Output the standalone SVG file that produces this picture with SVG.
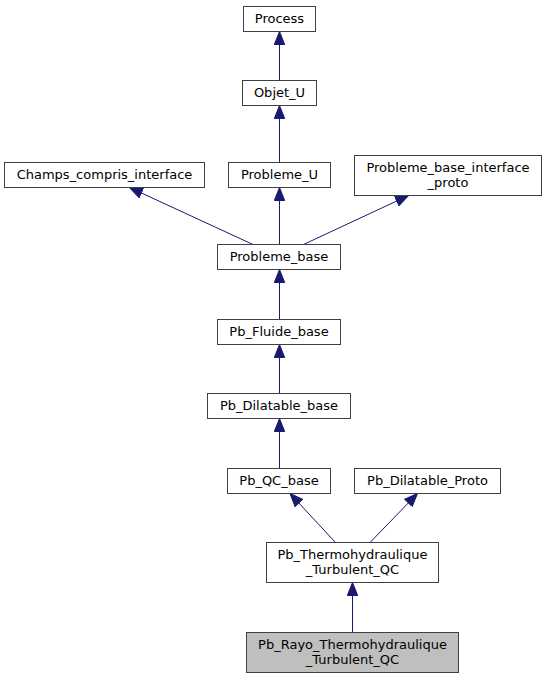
<svg xmlns="http://www.w3.org/2000/svg" width="546" height="679" viewBox="0 0 546 679">
<style>
.n rect{fill:#ffffff;stroke:#404040;stroke-width:1}
.n.cur rect{fill:#bfbfbf}
.n text{font-family:"DejaVu Sans","Liberation Sans",sans-serif;font-size:13px;fill:#000000;text-anchor:middle}
.e line{stroke:#191970;stroke-width:1;fill:none;marker-end:url(#ah)}
</style>
<defs>
<marker id="ah" markerUnits="userSpaceOnUse" markerWidth="14" markerHeight="12" viewBox="0 0 14 12" refX="13.5" refY="6" orient="auto">
<path d="M0.5,0.8 L13.5,6 L0.5,11.2 z" fill="#191970" stroke="#191970" stroke-width="1"/>
</marker>
</defs>
<rect width="546" height="679" fill="#ffffff"/>
<g id="edges" class="e">
<line x1="279.5" y1="80.5" x2="279.5" y2="31.5"/>
<line x1="279.5" y1="162.5" x2="279.5" y2="105.5"/>
<line x1="279.5" y1="244.5" x2="279.5" y2="187.5"/>
<line x1="253" y1="244.5" x2="129.5" y2="187.5"/>
<line x1="303.5" y1="244.5" x2="408.5" y2="195.5"/>
<line x1="279.5" y1="319.5" x2="279.5" y2="269.5"/>
<line x1="279.5" y1="393.5" x2="279.5" y2="344.5"/>
<line x1="279.5" y1="468.5" x2="279.5" y2="418.5"/>
<line x1="335.5" y1="542.5" x2="290" y2="493.5"/>
<line x1="370" y1="542.5" x2="417.5" y2="493.5"/>
<line x1="352.5" y1="632.5" x2="352.5" y2="582.5"/>
</g>
<g id="node-Process" class="n"><rect x="243.5" y="6.5" width="72" height="25"/><text x="279.5" y="23">Process</text></g>
<g id="node-Objet_U" class="n"><rect x="242.5" y="80.5" width="74" height="25"/><text x="279.5" y="97">Objet_U</text></g>
<g id="node-Champs_compris_interface" class="n"><rect x="4.5" y="162.5" width="200" height="25"/><text x="104.5" y="179">Champs_compris_interface</text></g>
<g id="node-Probleme_U" class="n"><rect x="228.5" y="162.5" width="102" height="25"/><text x="279.5" y="179">Probleme_U</text></g>
<g id="node-Probleme_base_interface_proto" class="n"><rect x="354.5" y="155.5" width="187" height="40"/><text x="448" y="171.5">Probleme_base_interface</text><text x="448" y="186.5">_proto</text></g>
<g id="node-Probleme_base" class="n"><rect x="217.5" y="244.5" width="123" height="25"/><text x="279" y="261">Probleme_base</text></g>
<g id="node-Pb_Fluide_base" class="n"><rect x="217.5" y="319.5" width="123" height="25"/><text x="279" y="336">Pb_Fluide_base</text></g>
<g id="node-Pb_Dilatable_base" class="n"><rect x="207.5" y="393.5" width="143" height="25"/><text x="279" y="410">Pb_Dilatable_base</text></g>
<g id="node-Pb_QC_base" class="n"><rect x="227.5" y="468.5" width="103" height="25"/><text x="279" y="485">Pb_QC_base</text></g>
<g id="node-Pb_Dilatable_Proto" class="n"><rect x="354.5" y="468.5" width="146" height="25"/><text x="427.5" y="485">Pb_Dilatable_Proto</text></g>
<g id="node-Pb_Thermohydraulique_Turbulent_QC" class="n"><rect x="266.5" y="542.5" width="172" height="40"/><text x="352.5" y="559">Pb_Thermohydraulique</text><text x="352.5" y="574">_Turbulent_QC</text></g>
<g id="node-Pb_Rayo_Thermohydraulique_Turbulent_QC" class="n cur"><rect x="246.5" y="632.5" width="212" height="40"/><text x="352.5" y="649">Pb_Rayo_Thermohydraulique</text><text x="352.5" y="664">_Turbulent_QC</text></g>
</svg>
